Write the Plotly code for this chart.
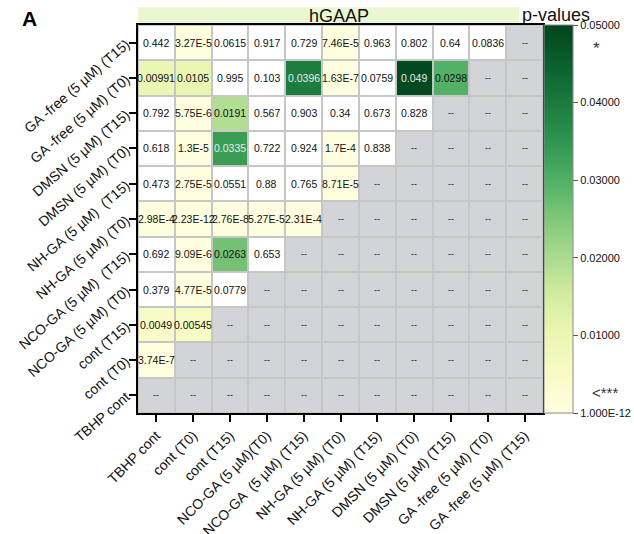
import plotly.graph_objects as go

# categories (bottom-to-top for rows, left-to-right for columns)
x_labels = ["TBHP cont", "cont (T0)", "cont (T15)", "NCO-GA (5 µM)(T0)", "NCO-GA  (5 µM) (T15)",
            "NH-GA (5 µM) (T0)", "NH-GA (5 µM) (T15)", "DMSN (5 µM) (T0)", "DMSN (5 µM) (T15)",
            "GA -free (5 µM) (T0)", "GA -free (5 µM) (T15)"]
y_labels = ["TBHP cont", "cont (T0)", "cont (T15)", "NCO-GA (5 µM) (T0)", "NCO-GA (5 µM)  (T15)",
            "NH-GA (5 µM) (T0)", "NH-GA (5 µM)  (T15)", "DMSN (5 µM) (T0)", "DMSN (5 µM) (T15)",
            "GA -free (5 µM) (T0)", "GA -free (5 µM) (T15)"]

# p-values per row, listed bottom row first; "--" = not computed
row_tbhp     = ["--"] * 11
row_cont0    = ["3.74E-7", "--", "--", "--", "--", "--", "--", "--", "--", "--", "--"]
row_cont15   = ["0.0049", "0.00545", "--", "--", "--", "--", "--", "--", "--", "--", "--"]
row_nco0     = ["0.379", "4.77E-5", "0.0779", "--", "--", "--", "--", "--", "--", "--", "--"]
row_nco15    = ["0.692", "9.09E-6", "0.0263", "0.653", "--", "--", "--", "--", "--", "--", "--"]
row_nh0      = ["2.98E-4", "2.23E-12", "2.76E-8", "5.27E-5", "2.31E-4", "--", "--", "--", "--", "--", "--"]
row_nh15     = ["0.473", "2.75E-5", "0.0551", "0.88", "0.765", "8.71E-5", "--", "--", "--", "--", "--"]
row_dmsn0    = ["0.618", "1.3E-5", "0.0335", "0.722", "0.924", "1.7E-4", "0.838", "--", "--", "--", "--"]
row_dmsn15   = ["0.792", "5.75E-6", "0.0191", "0.567", "0.903", "0.34", "0.673", "0.828", "--", "--", "--"]
row_gafree0  = ["0.00991", "0.0105", "0.995", "0.103", "0.0396", "1.63E-7", "0.0759", "0.049", "0.0298", "--", "--"]
row_gafree15 = ["0.442", "3.27E-5", "0.0615", "0.917", "0.729", "7.46E-5", "0.963", "0.802", "0.64", "0.0836", "--"]

rows = [row_tbhp, row_cont0, row_cont15, row_nco0, row_nco15, row_nh0, row_nh15,
        row_dmsn0, row_dmsn15, row_gafree0, row_gafree15]

cb_tickvals = [1e-12, 0.01, 0.02, 0.03, 0.04, 0.05]
cb_ticktext = ["1.000E-12", "0.01000", "0.02000", "0.03000", "0.04000", "0.05000"]

THRESH = 0.05
ZMIN, ZMAX = 1e-12, 0.05

colorscale = [
    [0.0, "#ffffe0"], [0.1, "#f8fbc6"], [0.2, "#ecf6b3"], [0.3, "#d4eda0"],
    [0.4, "#abdb8f"], [0.5, "#80c77a"], [0.6, "#50b065"], [0.7, "#2f9550"],
    [0.8, "#1b7b3e"], [0.9, "#0b5f2e"], [1.0, "#00441b"],
]

z_gray, z_white, z_col = [], [], []
for r in rows:
    rg, rw, rc = [], [], []
    for s in r:
        if s == "--":
            rg.append(1); rw.append(None); rc.append(None)
        else:
            v = float(s)
            rg.append(None)
            if v > THRESH:
                rw.append(1); rc.append(None)
            else:
                rw.append(None); rc.append(max(v, ZMIN))
    z_gray.append(rg); z_white.append(rw); z_col.append(rc)

xs = list(range(len(x_labels)))
ys = list(range(len(y_labels)))

fig = go.Figure()
fig.add_trace(go.Heatmap(z=z_gray, x=xs, y=ys, colorscale=[[0, "#d3d4d8"], [1, "#d3d4d8"]],
                         showscale=False, xgap=2, ygap=2, hoverinfo="skip"))
fig.add_trace(go.Heatmap(z=z_white, x=xs, y=ys, colorscale=[[0, "#ffffff"], [1, "#ffffff"]],
                         showscale=False, xgap=2, ygap=2, hoverinfo="skip"))
fig.add_trace(go.Heatmap(
    z=z_col, x=xs, y=ys, zmin=ZMIN, zmax=ZMAX, colorscale=colorscale, xgap=2, ygap=2,
    colorbar=dict(x=1.0025, xanchor="left", xpad=0, ypad=0, y=0.5, yanchor="middle",
                  len=1.0, lenmode="fraction",
                  thickness=29, thicknessmode="pixels", outlinecolor="#8a8a8a", outlinewidth=1,
                  tickvals=cb_tickvals, ticktext=cb_ticktext, ticks="outside", ticklen=5,
                  tickcolor="#555", tickfont=dict(size=11, color="#111"))
))

annotations = []
for yi, r in enumerate(rows):
    for xi, s in enumerate(r):
        color = "#111"
        if s != "--":
            v = float(s)
            if v <= THRESH and v >= 0.033:
                color = "#eaeaea"
        annotations.append(dict(x=xi, y=yi, xref="x", yref="y", text=s, showarrow=False,
                                font=dict(size=10.5 if s != "--" else 9, color=color)))

annotations += [
    dict(x=0.496, y=1.023, xref="paper", yref="paper", text="hGAAP", showarrow=False,
         xanchor="center", yanchor="middle", font=dict(size=18, color="#111")),
    dict(x=0.943, y=1.026, xref="paper", yref="paper", text="p-values", showarrow=False,
         xanchor="left", yanchor="middle", font=dict(size=18, color="#111")),
    dict(x=-0.267, y=1.018, xref="paper", yref="paper", text="<b>A</b>", showarrow=False,
         xanchor="center", yanchor="middle", font=dict(size=21, color="#000")),
    dict(x=1.131, y=0.94, xref="paper", yref="paper", text="*", showarrow=False,
         xanchor="center", yanchor="middle", font=dict(size=17, color="#333")),
    dict(x=1.153, y=0.052, xref="paper", yref="paper", text="&lt;***", showarrow=False,
         xanchor="center", yanchor="middle", font=dict(size=15, color="#333")),
]

fig.update_layout(
    width=634, height=534,
    margin=dict(l=138, r=91, t=25, b=121, autoexpand=False),
    paper_bgcolor="white", plot_bgcolor="#c6c6c6",
    font=dict(family="Arial, Liberation Sans, sans-serif", color="#111"),
    annotations=annotations,
    shapes=[dict(type="rect", xref="paper", yref="paper", x0=0, x1=0.941, y0=1.002, y1=1.046,
                 fillcolor="#eaf7d2", line=dict(width=0), layer="below")],
)
axis_common = dict(showline=True, linecolor="black", linewidth=2, mirror=True, ticks="outside",
                   ticklen=7, tickcolor="black", tickwidth=1.5, showgrid=False, zeroline=False,
                   tickfont=dict(size=14, color="#111"), fixedrange=True, automargin=False)
fig.update_xaxes(tickvals=xs, ticktext=x_labels, range=[-0.5, 10.5], tickangle=-45, **axis_common)
fig.update_yaxes(tickvals=ys, ticktext=y_labels, range=[-0.5, 10.5], tickangle=-41, **axis_common)

fig.write_html("out.html")
